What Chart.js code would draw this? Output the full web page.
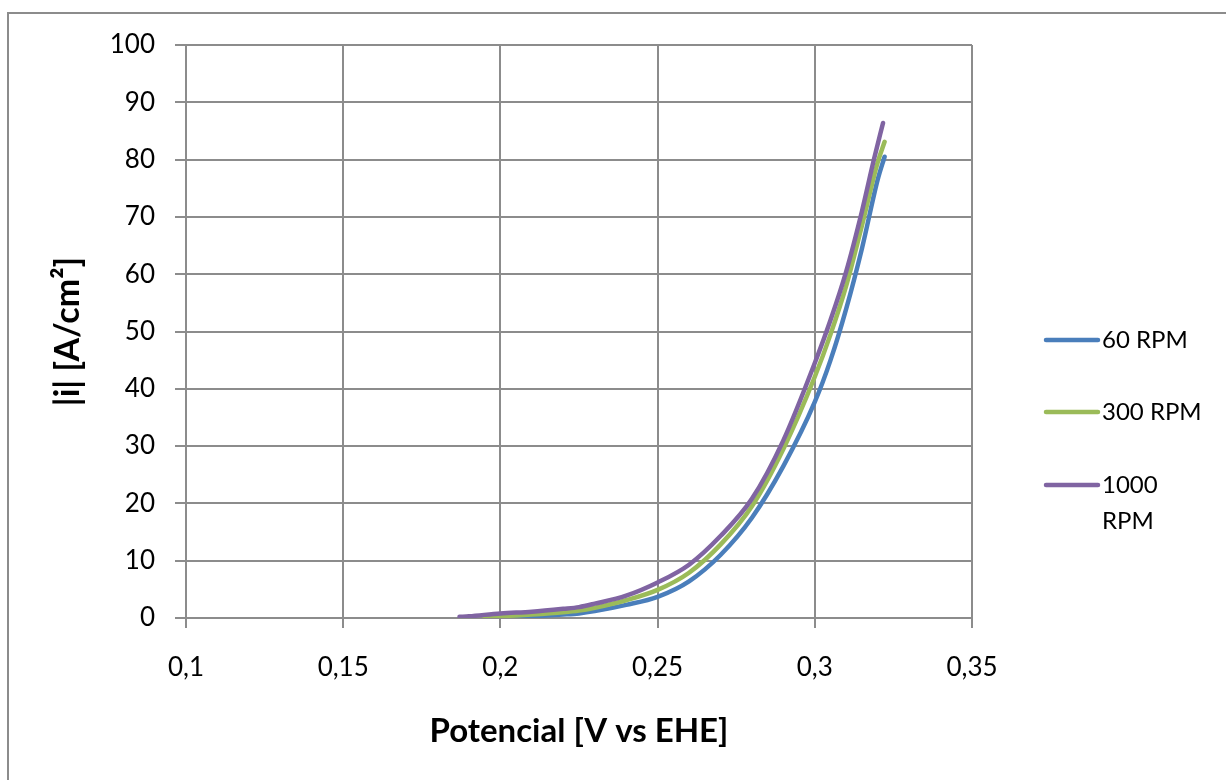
<!DOCTYPE html>
<html>
<head>
<meta charset="utf-8">
<script src="https://cdn.jsdelivr.net/npm/chart.js@4.4.1/dist/chart.umd.min.js"></script>
<style>
  html, body { margin: 0; padding: 0; background: #fff; }
  #wrap { width: 1226px; height: 780px; position: relative; }
</style>
</head>
<body>
<div id="wrap"><canvas id="grafico" width="1226" height="780"></canvas></div>
<script>
// Curvas de polarização
const seriesNomes = ['60 RPM', '300 RPM', '1000 RPM'];
const seriesCores = ['#4a7ebb', '#9bbb59', '#8064a2'];

const potencial60 = [0.200, 0.210, 0.220, 0.225, 0.230, 0.240, 0.250, 0.260, 0.270, 0.280, 0.290, 0.300, 0.305, 0.310, 0.315, 0.320, 0.3222];
const corrente60  = [0.05, 0.3, 0.6, 0.8, 1.2, 2.3, 3.7, 6.4, 11.0, 17.5, 26.5, 37.7, 45.0, 54.0, 64.5, 76.5, 80.5];

const potencial300 = [0.195, 0.200, 0.210, 0.220, 0.225, 0.230, 0.240, 0.250, 0.260, 0.270, 0.280, 0.290, 0.300, 0.305, 0.310, 0.315, 0.320, 0.3222];
const corrente300  = [0.1, 0.3, 0.6, 1.0, 1.3, 1.8, 3.1, 4.9, 7.9, 12.8, 19.5, 29.5, 42.1, 49.5, 58.0, 68.5, 79.5, 83.1];

const potencial1000 = [0.187, 0.190, 0.200, 0.210, 0.220, 0.225, 0.230, 0.240, 0.250, 0.260, 0.270, 0.280, 0.290, 0.300, 0.305, 0.310, 0.315, 0.3188, 0.3217];
const corrente1000  = [0.2, 0.3, 0.8, 1.1, 1.6, 1.9, 2.5, 3.9, 6.2, 9.3, 14.3, 20.8, 31.0, 44.5, 52.0, 60.5, 71.0, 80.0, 86.4];

const xTicks = [0.1, 0.15, 0.2, 0.25, 0.3, 0.35];
const yTicks = [0, 10, 20, 30, 40, 50, 60, 70, 80, 90, 100];

const FONTE = 'Lato, "Open Sans", sans-serif';
const CINZA = '#8c8c8c';

function montarPontos(xs, ys) {
    return xs.map((x, i) => ({ x: x, y: ys[i] }));
}

const dadosSeries = [
    montarPontos(potencial60, corrente60),
    montarPontos(potencial300, corrente300),
    montarPontos(potencial1000, corrente1000)
];

// Moldura externa (só topo e esquerda aparecem)
const moldura = {
    id: 'moldura',
    beforeDraw(chart) {
        const ctx = chart.ctx;
        ctx.save();
        ctx.fillStyle = '#fff';
        ctx.fillRect(0, 0, chart.width, chart.height);
        ctx.strokeStyle = CINZA;
        ctx.lineWidth = 2;
        ctx.strokeRect(8, 13, chart.width + 20, chart.height + 20);
        ctx.restore();
    }
};

// Legenda desenhada à mão, ao lado direito
const legenda = {
    id: 'legendaLateral',
    afterDraw(chart) {
        const ctx = chart.ctx;
        const posY = [340, 412, 485];
        ctx.save();
        ctx.font = '24px ' + FONTE;
        ctx.textBaseline = 'middle';
        chart.data.datasets.forEach((ds, i) => {
            const y = posY[i];
            ctx.strokeStyle = ds.borderColor;
            ctx.lineWidth = 4.5;
            ctx.lineCap = 'round';
            ctx.beginPath();
            ctx.moveTo(1046, y);
            ctx.lineTo(1098, y);
            ctx.stroke();
            ctx.fillStyle = '#000';
            const palavras = ds.label.split(' ');
            if (ctx.measureText(ds.label).width > 112 && palavras.length > 1) {
                ctx.fillText(palavras[0], 1102, y);
                ctx.fillText(palavras.slice(1).join(' '), 1102, y + 36);
            } else {
                ctx.fillText(ds.label, 1102, y);
            }
        });
        ctx.restore();
    }
};

const ctx = document.getElementById('grafico').getContext('2d');

new Chart(ctx, {
    type: 'scatter',
    data: {
        datasets: dadosSeries.map((pts, i) => ({
            label: seriesNomes[i],
            data: pts,
            showLine: true,
            borderColor: seriesCores[i],
            backgroundColor: seriesCores[i],
            borderWidth: 4.5,
            pointRadius: 0,
            cubicInterpolationMode: 'monotone',
            borderCapStyle: 'round',
            order: 2 - i
        }))
    },
    options: {
        responsive: false,
        animation: false,
        layout: {
            padding: { left: 0, top: 45, right: 254, bottom: 0 }
        },
        plugins: {
            legend: { display: false },
            tooltip: { enabled: false }
        },
        scales: {
            x: {
                type: 'linear',
                min: 0.1,
                max: 0.35,
                afterBuildTicks: (scale) => { scale.ticks = xTicks.map(v => ({ value: v })); },
                afterFit: (scale) => { scale.height = 162; },
                grid: { color: CINZA, lineWidth: 2, tickLength: 10 },
                border: { color: CINZA, width: 2 },
                ticks: {
                    color: '#000',
                    font: { family: FONTE, size: 26 },
                    padding: 24,
                    maxRotation: 0,
                    callback: (v) => String(Math.round(v * 100) / 100).replace('.', ',')
                },
                title: {
                    display: true,
                    text: 'Potencial [V vs EHE]',
                    color: '#000',
                    font: { family: FONTE, size: 33, weight: 'bold' },
                    padding: { top: 0, bottom: 29 }
                }
            },
            y: {
                type: 'linear',
                min: 0,
                max: 100,
                afterBuildTicks: (scale) => { scale.ticks = yTicks.map(v => ({ value: v })); },
                afterFit: (scale) => { scale.width = 186; },
                grid: { color: CINZA, lineWidth: 2, tickLength: 11 },
                border: { color: CINZA, width: 2 },
                ticks: {
                    color: '#000',
                    font: { family: FONTE, size: 26 },
                    padding: 20
                },
                title: {
                    display: true,
                    text: '|i| [A/cm²]',
                    color: '#000',
                    font: { family: FONTE, size: 34, weight: 'bold' },
                    padding: { top: 48, bottom: 0 }
                }
            }
        }
    },
    plugins: [moldura, legenda]
});
</script>
</body>
</html>
